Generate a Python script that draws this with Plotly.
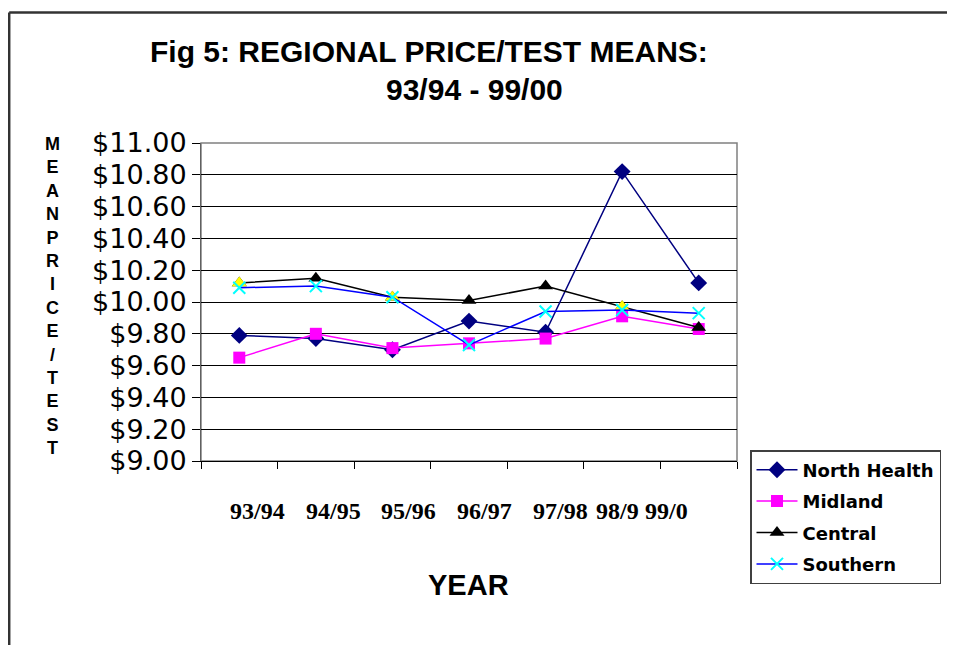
import plotly.graph_objects as go

years = ["93/94", "94/95", "95/96", "96/97", "97/98", "98/9", "99/0"]
north_health = [9.79, 9.77, 9.70, 9.88, 9.81, 10.82, 10.12]
midland = [9.65, 9.80, 9.71, 9.74, 9.77, 9.91, 9.83]
central = [10.12, 10.15, 10.03, 10.01, 10.10, 9.97, 9.84]
southern = [10.09, 10.10, 10.03, 9.73, 9.94, 9.95, 9.93]
central_yellow_idx = [0, 2, 5]
label_shift = [18, 18, 16, 15, 15, -5, -32]
y_title = "MEANPRICE/TEST"

OFF = 8  # page body margin
W, H = 955 - OFF, 645 - OFF
L, R, T, B = 201 - OFF, 737 - OFF, 143 - OFF, 461 - OFF

def px(x):
    return (x - OFF - L) / (R - L)

def py(y):
    return (B - (y - OFF)) / (B - T)

fig = go.Figure()
fig.add_trace(go.Scatter(x=years, y=north_health, name="North Health", mode="lines+markers",
                         line=dict(color="#000080", width=1.5),
                         marker=dict(symbol="diamond", size=13, color="#000080"),
                         legendgroup="a"))
fig.add_trace(go.Scatter(x=years, y=midland, name="Midland", mode="lines+markers",
                         line=dict(color="#FF00FF", width=1.5),
                         marker=dict(symbol="square", size=12, color="#FF00FF"),
                         legendgroup="b"))
fig.add_trace(go.Scatter(x=years, y=central, name="Central", mode="lines+markers",
                         line=dict(color="#000000", width=1.5),
                         marker=dict(symbol="triangle-up", size=13, color="#000000"),
                         legendgroup="c"))
fig.add_trace(go.Scatter(x=[years[i] for i in central_yellow_idx],
                         y=[central[i] for i in central_yellow_idx],
                         mode="markers", showlegend=False,
                         marker=dict(symbol="triangle-up", size=13, color="#FFFF00"),
                         legendgroup="c"))
fig.add_trace(go.Scatter(x=years, y=southern, name="Southern", mode="lines+markers",
                         line=dict(color="#0000FF", width=1.5),
                         marker=dict(symbol="x-thin", size=12, color="#00FFFF",
                                     line=dict(color="#00FFFF", width=2)),
                         legendgroup="d"))

def ann(text, x, y, size, family="Liberation Sans, Arial", xref="paper", xshift=0):
    return dict(text=text, x=x, y=y, xref=xref, yref="paper", xshift=xshift,
                xanchor="center", yanchor="middle", showarrow=False, align="center",
                font=dict(family=family, size=size, color="black"))

annotations = [
    ann("<b>Fig 5: REGIONAL PRICE/TEST MEANS:</b>", px(429), py(52), 30),
    ann("<b>93/94 - 99/00</b>", px(474), py(90), 30),
    ann("<br>".join("<b>%s</b>" % c for c in y_title), px(52), py(296), 18),
    ann("<b>YEAR</b>", px(468), py(585), 29),
]
for yr, sh in zip(years, label_shift):
    annotations.append(ann("<b>%s</b>" % yr, yr, py(511), 24,
                           family="Liberation Serif, Times New Roman", xref="x", xshift=sh))

shapes = [
    dict(type="rect", xref="paper", yref="paper", x0=0, x1=1, y0=0, y1=1,
         line=dict(color="#808080", width=1.5), layer="below"),
    dict(type="line", xref="paper", yref="paper", x0=px(9.2), x1=px(9.2), y0=py(12.5), y1=py(700),
         line=dict(color="#333333", width=2.5)),
    dict(type="line", xref="paper", yref="paper", x0=px(9.2), x1=px(1000), y0=py(12.5), y1=py(12.5),
         line=dict(color="#333333", width=2.5)),
]

fig.update_layout(
    width=W, height=H,
    margin=dict(l=L, r=W - R, t=T, b=H - B, pad=0),
    paper_bgcolor="white", plot_bgcolor="white",
    showlegend=True,
    legend=dict(x=px(750), y=py(450), xanchor="left", yanchor="top",
                bordercolor="#404040", borderwidth=1.5, bgcolor="white",
                font=dict(family="DejaVu Sans", size=18, color="black", weight="bold"),
                traceorder="grouped", tracegroupgap=5, itemwidth=41),
    annotations=annotations,
    shapes=shapes,
    xaxis=dict(type="category", showgrid=False, showline=True, linecolor="black", linewidth=1,
               ticks="outside", ticklen=7, tickcolor="black", tickson="boundaries",
               showticklabels=False, range=[-0.5, 6.5], zeroline=False),
    yaxis=dict(range=[9, 11], dtick=0.2, tick0=9, tickprefix="$", tickformat=".2f",
               showgrid=True, gridcolor="black", gridwidth=1,
               showline=True, linecolor="#606060", linewidth=1,
               ticks="outside", ticklen=8, tickcolor="black",
               tickfont=dict(family="DejaVu Sans", size=27, color="black"),
               zeroline=False),
)

fig.write_html("out.html")
